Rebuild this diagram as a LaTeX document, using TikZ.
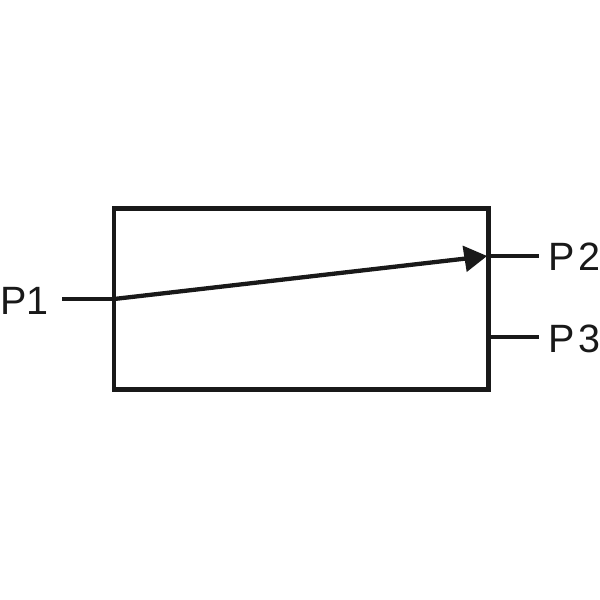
\documentclass[tikz,border=0pt]{standalone}
\usepackage{fontspec}
\setmainfont{Liberation Sans}
\begin{document}
\begin{tikzpicture}[x=1pt,y=-1pt,
  wire/.style={line width=4.3pt,draw=black!90},
  lbl/.style={font=\fontsize{39.5}{40}\selectfont,text=black!90,inner sep=0pt,anchor=base west}]
\useasboundingbox (0,0) rectangle (600,600);
\node[draw=black!90,line width=4.8pt,minimum width=374.5pt,minimum height=181pt,inner sep=0pt,outer sep=0pt] (box) at (301.2,299) {};
\coordinate (a1) at (62,299);
\coordinate (a2) at (114,299);
\coordinate (b) at (487,256);
\coordinate (c1) at (488,256);
\coordinate (c2) at (539,256);
\coordinate (d1) at (488,337);
\coordinate (d2) at (539,337);
\node[lbl] (p1) at (0,314) {P1};
\node[lbl] (p2) at (548.5,270) {P\kern3.5pt 2};
\node[lbl] (p3) at (548.5,352) {P\kern3.5pt 3};
\draw[wire] (a1) -- (a2);
\draw[wire] (c1) -- (c2);
\draw[wire] (d1) -- (d2);
\draw[wire] (a2) -- (466,258.5);
\fill[black!90] (b) -- (462.5,245.5) -- (466.7,272) -- cycle;
\end{tikzpicture}
\end{document}
